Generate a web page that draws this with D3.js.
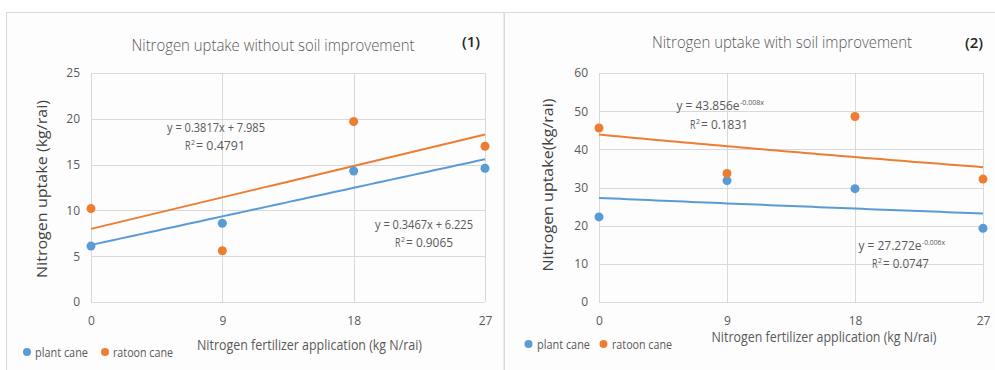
<!DOCTYPE html>
<html><head><meta charset="utf-8">
<script src="https://cdn.jsdelivr.net/npm/d3@7"></script>
<style>
html,body{margin:0;padding:0;background:#fff;}
svg{display:block;font-family:"Open Sans","Noto Sans",sans-serif;}
</style></head>
<body><svg id="chart" width="995" height="370"></svg>
<script>
// ---- data ----
const xValues = [0, 9, 18, 27];
const xTicks = [0, 9, 18, 27];
const seriesNames = ["plant cane", "ratoon cane"];
const colors = ["#5B9BD5", "#ED7D31"];

// panel 1: without soil improvement
const p1Plant = [6.1, 8.6, 14.3, 14.6];
const p1Ratoon = [10.2, 5.6, 19.7, 17.0];
const p1YTicks = [0, 5, 10, 15, 20, 25];
const p1PlantFit = {a: 0.3467, b: 6.225};   // linear y = a x + b
const p1RatoonFit = {a: 0.3817, b: 7.985};

// panel 2: with soil improvement
const p2Plant = [22.3, 31.8, 29.7, 19.3];
const p2Ratoon = [45.6, 33.7, 48.6, 32.2];
const p2YTicks = [0, 10, 20, 30, 40, 50, 60];
const p2PlantFit = {c: 27.272, k: -0.006};  // exponential y = c e^(k x)
const p2RatoonFit = {c: 43.856, k: -0.008};

const svg = d3.select("#chart");
const textCol = "#595959";

// panel backgrounds / borders
svg.append("rect").attr("x", 6.5).attr("y", 12.5).attr("width", 497.5).attr("height", 370)
  .attr("fill", "#FDFDFD").attr("stroke", "#D9D9D9");
svg.append("rect").attr("x", 504.5).attr("y", 12.5).attr("width", 500).attr("height", 370)
  .attr("fill", "#FDFDFD").attr("stroke", "#D9D9D9");

function label(g, x, y, w, txt, size, anchor) {
  return g.append("text").attr("x", x).attr("y", y).attr("text-anchor", anchor || "start")
    .attr("dominant-baseline", "central").attr("fill", textCol).style("font-size", size + "px")
    .attr("textLength", w).attr("lengthAdjust", "spacingAndGlyphs").text(txt);
}

function panel(cfg) {
  const g = svg.append("g");
  const x = d3.scaleLinear().domain([0, 27]).range([cfg.x0, cfg.x1]);
  const y = d3.scaleLinear().domain([0, cfg.ymax]).range([cfg.y0, cfg.y1]);

  // gridlines
  g.selectAll(".hg").data(cfg.yTicks).join("line")
    .attr("x1", cfg.x0).attr("x2", cfg.x1)
    .attr("y1", d => Math.round(y(d)) + 0.5).attr("y2", d => Math.round(y(d)) + 0.5)
    .attr("stroke", "#D9D9D9").attr("stroke-width", 1);
  g.selectAll(".vg").data(xTicks).join("line")
    .attr("y1", cfg.y0).attr("y2", cfg.y1)
    .attr("x1", d => Math.round(x(d)) + 0.5).attr("x2", d => Math.round(x(d)) + 0.5)
    .attr("stroke", "#D9D9D9").attr("stroke-width", 1);

  // axes via d3 axis (labels only)
  const ya = g.append("g").attr("transform", `translate(${cfg.x0},0)`)
    .call(d3.axisLeft(y).tickValues(cfg.yTicks).tickSize(0).tickPadding(cfg.yPad));
  ya.select(".domain").remove();
  ya.selectAll("text").attr("fill", textCol).style("font-size", "12px")
    .style("font-family", "'Open Sans',sans-serif");
  const xa = g.append("g").attr("transform", `translate(0,${cfg.y0})`)
    .call(d3.axisBottom(x).tickValues(xTicks).tickSize(0).tickPadding(14));
  xa.select(".domain").remove();
  xa.selectAll("text").attr("fill", textCol).style("font-size", "12px")
    .style("font-family", "'Open Sans',sans-serif");

  // trend lines
  const xs = d3.range(0, 27.01, 0.5);
  cfg.fits.forEach((f, i) => {
    g.append("path").datum(xs)
      .attr("d", d3.line().x(d => x(d)).y(d => y(f(d))))
      .attr("fill", "none").attr("stroke", colors[i]).attr("stroke-width", 2);
  });

  // points
  cfg.series.forEach((s, i) => {
    g.selectAll(null).data(s).join("circle")
      .attr("cx", (d, j) => x(xValues[j])).attr("cy", d => y(d))
      .attr("r", 4.5).attr("fill", colors[i]);
  });

  // titles
  g.append("text").attr("x", cfg.titleX).attr("y", cfg.titleY).attr("text-anchor", "middle")
    .attr("fill", textCol).style("font-size", "16px").style("font-weight", 300)
    .attr("textLength", cfg.titleW).attr("lengthAdjust", "spacingAndGlyphs")
    .text(cfg.title);
  g.append("text").attr("x", cfg.numX).attr("y", cfg.numY).attr("text-anchor", "middle")
    .attr("fill", "#262626").style("font-size", "15px").style("font-weight", 600)
    .text(cfg.num);
  g.append("text").attr("x", cfg.xtX).attr("y", cfg.xtY).attr("text-anchor", "middle")
    .attr("dominant-baseline", "central")
    .attr("fill", textCol).style("font-size", "14px")
    .attr("textLength", 225).attr("lengthAdjust", "spacingAndGlyphs")
    .text("Nitrogen fertilizer application (kg N/rai)");
  g.append("text").attr("transform", `translate(${cfg.ytX},${cfg.ytY}) rotate(-90)`)
    .attr("text-anchor", "middle").attr("dominant-baseline", "central")
    .attr("fill", "#404040").style("font-size", "14px").style("font-weight", 500)
    .attr("textLength", cfg.ytW).attr("lengthAdjust", "spacingAndGlyphs")
    .text(cfg.yTitle);

  // equation labels
  cfg.eqs.forEach(e => {
    label(g, e.x, e.y, e.w, e.t, 12);
    if (e.sup) label(g, e.sx, e.sy, e.sw, e.sup, 8);
  });

  // legend
  cfg.legend.forEach((l, i) => {
    g.append("circle").attr("cx", l.cx).attr("cy", cfg.legY).attr("r", 4).attr("fill", colors[i]);
    label(g, l.tx, cfg.legY, l.w, seriesNames[i], 12);
  });
}

panel({
  x0: 91, x1: 485, y0: 302, y1: 73, ymax: 25, yTicks: p1YTicks, yPad: 11,
  series: [p1Plant, p1Ratoon],
  fits: [d => p1PlantFit.a * d + p1PlantFit.b, d => p1RatoonFit.a * d + p1RatoonFit.b],
  title: "Nitrogen uptake without soil improvement", titleX: 273, titleY: 51, titleW: 283,
  num: "(1)", numX: 471, numY: 47,
  xtX: 309.5, xtY: 344, ytX: 41, ytY: 189, ytW: 178,
  yTitle: "Nitrogen uptake (kg/rai)",
  eqs: [
    {x: 167, y: 127, w: 98, t: "y = 0.3817x + 7.985"},
    {x: 185, y: 145, w: 5.5, t: "R", sup: "2", sx: 191, sy: 141, sw: 4},
    {x: 196, y: 145, w: 49, t: "= 0.4791"},
    {x: 375, y: 224, w: 98, t: "y = 0.3467x + 6.225"},
    {x: 395, y: 242.5, w: 5.5, t: "R", sup: "2", sx: 401, sy: 238.5, sw: 4},
    {x: 406, y: 242.5, w: 47, t: "= 0.9065"}
  ],
  legY: 352,
  legend: [{cx: 27, tx: 35, w: 53}, {cx: 105, tx: 113, w: 60}]
});

panel({
  x0: 599, x1: 983, y0: 302, y1: 73, ymax: 60, yTicks: p2YTicks, yPad: 11,
  series: [p2Plant, p2Ratoon],
  fits: [d => p2PlantFit.c * Math.exp(p2PlantFit.k * d), d => p2RatoonFit.c * Math.exp(p2RatoonFit.k * d)],
  title: "Nitrogen uptake with soil improvement", titleX: 782, titleY: 48, titleW: 260,
  num: "(2)", numX: 974, numY: 48,
  xtX: 824, xtY: 336.5, ytX: 547.5, ytY: 185, ytW: 173,
  yTitle: "Nitrogen uptake(kg/rai)",
  eqs: [
    {x: 676.5, y: 105.5, w: 63, t: "y = 43.856e", sup: "-0.008x", sx: 740, sy: 101.5, sw: 24},
    {x: 690, y: 124.5, w: 5.5, t: "R", sup: "2", sx: 696, sy: 120.5, sw: 4},
    {x: 701, y: 124.5, w: 47, t: "= 0.1831"},
    {x: 858.5, y: 245.5, w: 63, t: "y = 27.272e", sup: "-0.006x", sx: 922, sy: 241.5, sw: 23},
    {x: 872, y: 263.5, w: 5.5, t: "R", sup: "2", sx: 878, sy: 259.5, sw: 4},
    {x: 883, y: 263.5, w: 46, t: "= 0.0747"}
  ],
  legY: 344,
  legend: [{cx: 528.5, tx: 537, w: 53}, {cx: 603.5, tx: 612, w: 60}]
});
</script></body></html>
